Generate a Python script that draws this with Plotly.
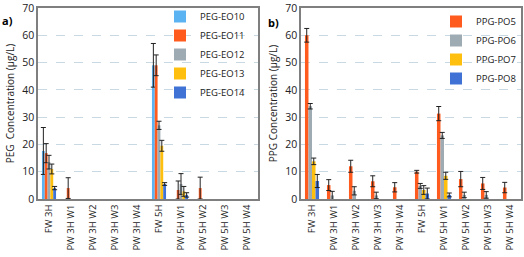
import plotly.graph_objects as go

categories = ["FW 3H", "PW 3H W1", "PW 3H W2", "PW 3H W3", "PW 3H W4",
              "FW 5H", "PW 5H W1", "PW 5H W2", "PW 5H W3", "PW 5H W4"]

# Panel a: PEG
peg_names = ["PEG-EO10", "PEG-EO11", "PEG-EO12", "PEG-EO13", "PEG-EO14"]
peg_eo10 = [17.6, 0, 0, 0, 0, 49.0, 0, 0, 0, 0]
peg_eo10_err = [8.6, 0, 0, 0, 0, 8.0, 0, 0, 0, 0]
peg_eo11 = [16.8, 4.0, 0, 0, 0, 49.0, 3.3, 4.0, 0, 0]
peg_eo11_err = [3.5, 3.8, 0, 0, 0, 3.8, 3.3, 4.0, 0, 0]
peg_eo12 = [13.5, 0, 0, 0, 0, 27.0, 5.5, 0, 0, 0]
peg_eo12_err = [2.5, 0, 0, 0, 0, 1.5, 3.8, 0, 0, 0]
peg_eo13 = [11.0, 0, 0, 0, 0, 19.5, 2.8, 0, 0, 0]
peg_eo13_err = [1.8, 0, 0, 0, 0, 2.0, 1.8, 0, 0, 0]
peg_eo14 = [4.0, 0, 0, 0, 0, 5.5, 1.5, 0, 0, 0]
peg_eo14_err = [0.6, 0, 0, 0, 0, 0.5, 0.8, 0, 0, 0]

# Panel b: PPG
ppg_names = ["PPG-PO5", "PPG-PO6", "PPG-PO7", "PPG-PO8"]
ppg_po5 = [60.0, 5.1, 12.0, 6.5, 4.3, 10.0, 31.3, 7.3, 5.7, 4.2]
ppg_po5_err = [2.5, 2.0, 2.2, 2.0, 1.7, 0.5, 2.6, 2.8, 2.2, 1.9]
ppg_po6 = [34.0, 1.3, 3.0, 1.3, 0, 4.8, 23.3, 1.5, 1.5, 0]
ppg_po6_err = [1.0, 1.5, 1.5, 1.2, 0, 0.9, 1.1, 1.0, 1.2, 0]
ppg_po7 = [13.8, 0, 0, 0, 0, 3.3, 8.5, 0, 0, 0]
ppg_po7_err = [1.2, 0, 0, 0, 0, 1.6, 1.3, 0, 0, 0]
ppg_po8 = [6.6, 0, 0, 0, 0, 2.0, 1.5, 0, 0, 0]
ppg_po8_err = [2.4, 0, 0, 0, 0, 2.0, 0.7, 0, 0, 0]

peg_colors = ["#5cb3f2", "#ff5b1f", "#9eabb2", "#ffbf0f", "#3f72d4"]
ppg_colors = ["#ff5b1f", "#9eabb2", "#ffbf0f", "#3f72d4"]

peg_vals = [peg_eo10, peg_eo11, peg_eo12, peg_eo13, peg_eo14]
peg_errs = [peg_eo10_err, peg_eo11_err, peg_eo12_err, peg_eo13_err, peg_eo14_err]
ppg_vals = [ppg_po5, ppg_po6, ppg_po7, ppg_po8]
ppg_errs = [ppg_po5_err, ppg_po6_err, ppg_po7_err, ppg_po8_err]

FONT = "Open Sans, DejaVu Sans, sans-serif"
fig = go.Figure()

def nz(a):
    return [v if v > 0 else None for v in a]

def err_cfg(e):
    return dict(type="data", array=nz(e), visible=True, color="#222222",
                thickness=1, width=2.5)

for n, v, e, c in zip(peg_names, peg_vals, peg_errs, peg_colors):
    fig.add_trace(go.Bar(name=n, x=categories, y=nz(v), error_y=err_cfg(e),
                         marker=dict(color=c, line=dict(width=0)),
                         xaxis="x", yaxis="y", legend="legend"))
for n, v, e, c in zip(ppg_names, ppg_vals, ppg_errs, ppg_colors):
    fig.add_trace(go.Bar(name=n, x=categories, y=nz(v), error_y=err_cfg(e),
                         marker=dict(color=c, line=dict(width=0)),
                         xaxis="x2", yaxis="y2", legend="legend2"))

grid = "#c9d9e3"
axcol = "#7f7f7f"
tickfont = dict(family=FONT, size=9.5, color="#222222")

xcommon = dict(tickangle=-90, showline=True, linecolor=axcol, linewidth=1.5,
               mirror=True, ticks="", tickfont=tickfont, showgrid=False,
               automargin=False)
ycommon = dict(range=[0, 70], tickvals=[0, 10, 20, 30, 40, 50, 60, 70],
               showgrid=True, gridcolor=grid, ticklabeloverflow="allow",
               griddash="dash", gridwidth=1, showline=True, linecolor=axcol,
               linewidth=1.5, mirror=True, ticks="", automargin=False,
               tickfont=dict(family=FONT, size=10.5, color="#222222"),
               zeroline=False)

W, H = 524, 257
ml, mr, mt, mb = 38, 3, 7, 58
pw = W - ml - mr
ph = H - mt - mb
legfont = dict(family=FONT, size=9.5, color="#222222")
fig.update_layout(
    width=W, height=H,
    margin=dict(l=ml, r=mr, t=mt, b=mb),
    paper_bgcolor="white", plot_bgcolor="white",
    barmode="group", bargap=0.36, bargroupgap=0,
    showlegend=True,
    xaxis=dict(domain=[0, 220 / pw], **xcommon),
    yaxis=dict(**ycommon, title=dict(text="PEG  Concentration (µg/L)",
               font=dict(family=FONT, size=10, color="#222222"), standoff=6)),
    xaxis2=dict(domain=[263 / pw, 1], anchor="y2", **xcommon),
    yaxis2=dict(anchor="x2", **ycommon, title=dict(text="PPG Concentration (µg/L)",
                font=dict(family=FONT, size=10, color="#222222"), standoff=6)),
    legend=dict(x=(160 - ml) / pw, y=1 + 5 / ph, xanchor="left", yanchor="top",
                bgcolor="rgba(0,0,0,0)", font=legfont, itemwidth=30, tracegroupgap=0),
    legend2=dict(x=(436 - ml) / pw, y=1.0, xanchor="left", yanchor="top",
                 bgcolor="rgba(0,0,0,0)", font=legfont, itemwidth=30, tracegroupgap=0),
    annotations=[
        dict(text="<b>a)</b>", xref="paper", yref="paper", x=-ml / pw, y=0.985,
             xanchor="left", yanchor="top", showarrow=False,
             font=dict(family=FONT, size=11, color="#000")),
        dict(text="<b>b)</b>", xref="paper", yref="paper", x=(266 - ml) / pw, y=0.975,
             xanchor="left", yanchor="top", showarrow=False,
             font=dict(family=FONT, size=11, color="#000")),
    ],
)

fig.write_html("out.html", config={"displayModeBar": False},
               post_script="document.body.style.margin='0px';document.body.style.overflow='hidden';")
